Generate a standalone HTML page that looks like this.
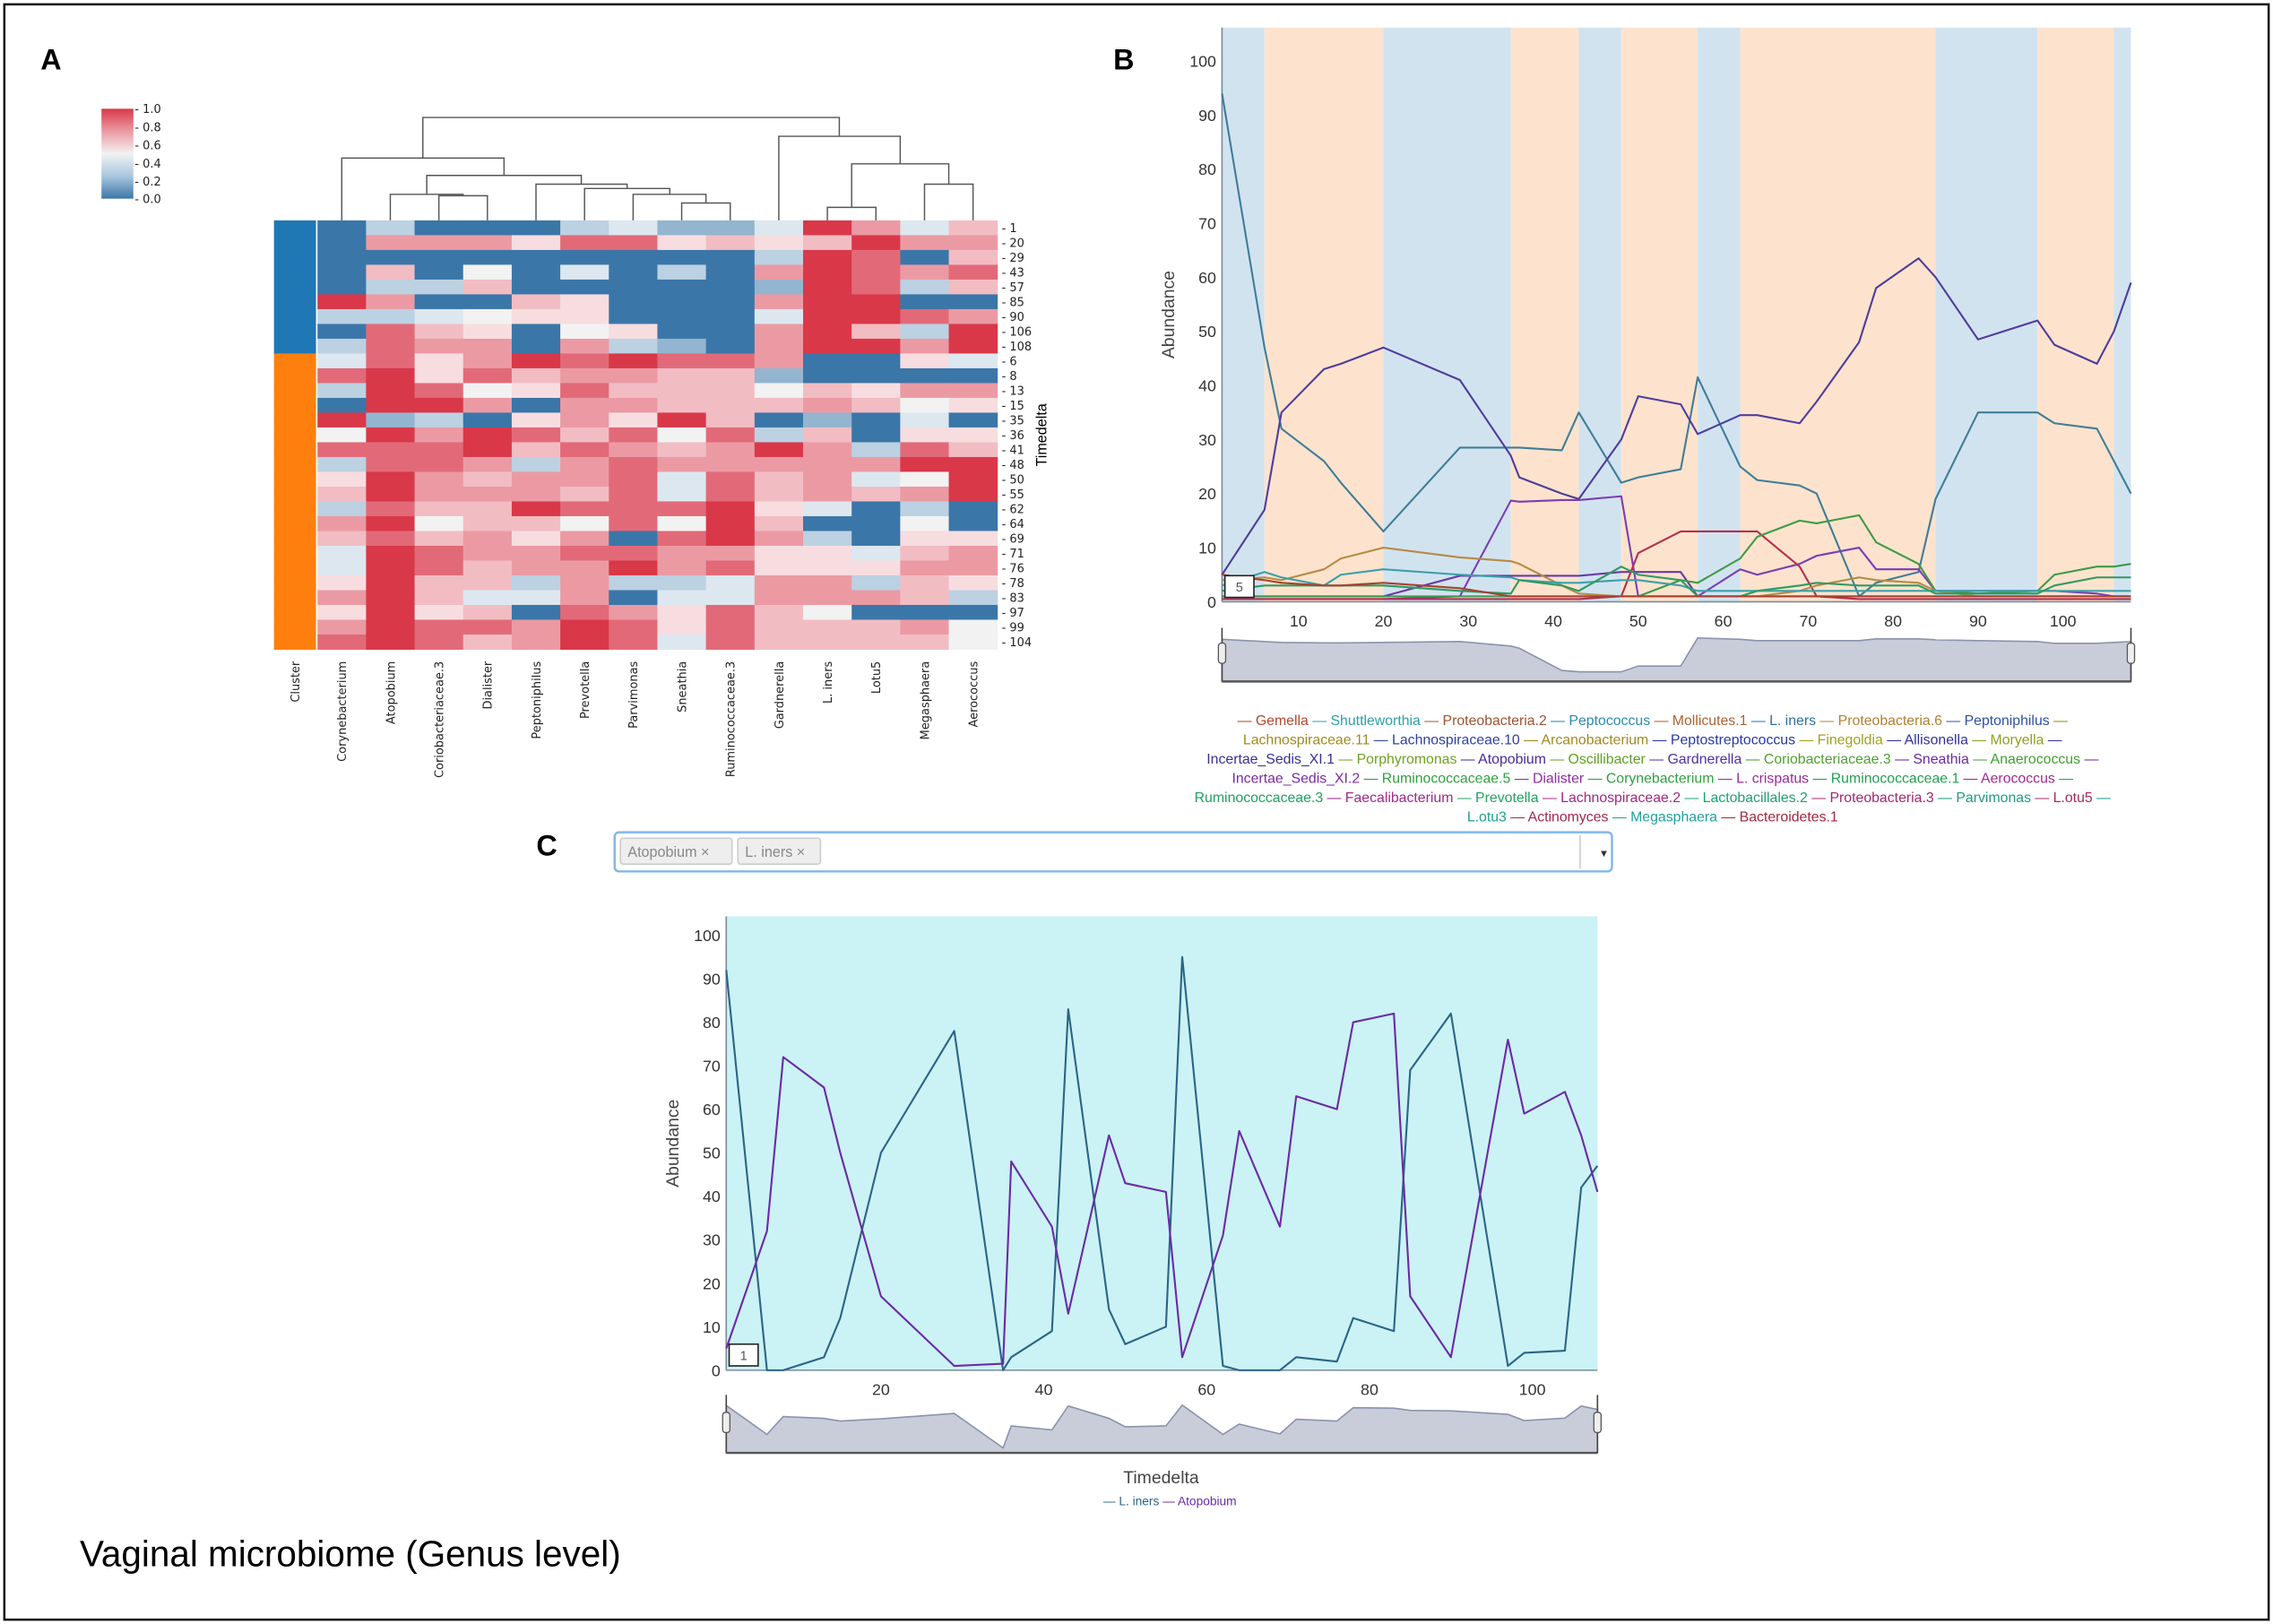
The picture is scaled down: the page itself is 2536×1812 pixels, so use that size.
<!DOCTYPE html>
<html><head><meta charset="utf-8">
<style>
html,body{margin:0;padding:0;background:#fff;}
svg{display:block;font-family:"Liberation Sans","DejaVu Sans",sans-serif;}
</style></head>
<body>
<svg id="fig" width="2536" height="1812" viewBox="0 0 1568 1120" preserveAspectRatio="none" xmlns="http://www.w3.org/2000/svg">
<rect x="3" y="3" width="1562" height="1114" fill="#fff" stroke="#000" stroke-width="1.5"/>
<text x="28" y="48" font-size="20" font-weight="bold">A</text>
<text x="768" y="48" font-size="20" font-weight="bold">B</text>
<text x="370" y="590" font-size="20" font-weight="bold">C</text>
<text x="55" y="1080" font-size="25">Vaginal microbiome (Genus level)</text>

<defs>
<linearGradient id="cbar" x1="0" y1="0" x2="0" y2="1">
<stop offset="0" stop-color="#d93849"/><stop offset="0.25" stop-color="#eb9aa3"/><stop offset="0.5" stop-color="#f2f2f2"/><stop offset="0.75" stop-color="#a9c6dd"/><stop offset="1" stop-color="#3b76a8"/>
</linearGradient>
</defs>
<g>
<rect x="70" y="75" width="22" height="62" fill="url(#cbar)"/>
<g font-size="8" font-family="DejaVu Sans, sans-serif" fill="#222">
<text x="93" y="78">- 1.0</text><text x="93" y="90.5">- 0.8</text><text x="93" y="103">- 0.6</text><text x="93" y="115.5">- 0.4</text><text x="93" y="128">- 0.2</text><text x="93" y="140">- 0.0</text>
</g>
</g>
<g id="heat"></g>
<g id="dendro" fill="none" stroke="#555" stroke-width="0.9"></g>
<text transform="translate(722,300) rotate(-90)" font-size="10" text-anchor="middle">Timedelta</text>

<g id="chartB"></g>
<g id="legendB" font-size="9.8" text-anchor="middle"></g>

<g>
<rect x="424" y="574" width="688" height="27" rx="3" fill="#fff" stroke="#7fb8ec" stroke-width="1.5"/>
<line x1="1090" y1="576" x2="1090" y2="599" stroke="#ccc"/>
<text x="1103" y="591" font-size="7" fill="#333">▼</text>
<g><rect x="428" y="578" width="77" height="18" rx="2" fill="#eee" stroke="#ccc"/><text x="433" y="591" font-size="10" fill="#888">Atopobium  ×</text></g>
<g><rect x="509" y="578" width="57" height="18" rx="2" fill="#eee" stroke="#ccc"/><text x="514" y="591" font-size="10" fill="#888">L. iners  ×</text></g>
</g>
<g id="chartC"></g>

<script>
// ---------- Heatmap data ----------
const heatCols = ["Corynebacterium","Atopobium","Coriobacteriaceae.3","Dialister","Peptoniphilus","Prevotella","Parvimonas","Sneathia","Ruminococcaceae.3","Gardnerella","L. iners","Lotu5","Megasphaera","Aerococcus"];
const heatRows = ["1","20","29","43","57","85","90","106","108","6","8","13","15","35","36","41","48","50","55","62","64","69","71","76","78","83","97","99","104"];
const heatCluster = [0,0,0,0,0,0,0,0,0,1,1,1,1,1,1,1,1,1,1,1,1,1,1,1,1,1,1,1,1];
const heatVals = [
"02000231139736","07775885656977","00000000029806","06040302079878","02260000019826",
"97006500079900","22345500039987","08650450079629","28770721079979","38579898870053",
"89586776610000","29845866646577","09970776667645","91205759601030","49798684826055",
"88896876797286","28872787777799","59767783867349","69777683867679","28669888953020",
"79466484960040","68675708972055","39877887755367","39867797855577","59662722377265",
"79633703377762","59560875864000","79887985866674","89867983866664"];
const heatPalette = ["#3b76a8","#93b5cf","#bcd1e2","#dde7ef","#f2f2f2","#f7dde0","#f2bcc3","#eb9aa3","#e26a78","#d93849"];

// ---------- Panel B / C data ----------
const timepoints = [1,6,8,13,15,20,29,35,36,41,43,48,50,55,57,62,64,69,71,76,78,83,85,90,97,99,104,106,108];
const bGardnerella = [5,17,35,43,44,47,41,27,23,20,19,30,38,36.5,31,34.5,34.5,33,37,48,58,63.5,60,48.5,52,47.5,44,50,59];
const bLiners = [94,47,32,26,22,13,28.5,28.5,28.5,28,35,22,23,24.5,41.5,25,22.5,21.5,20,1,3.5,5.5,19,35,35,33,32,26,20];
const bViolet = [0.5,0.5,0.5,0.5,0.5,0.5,1,18.7,18.5,18.8,18.8,19.5,1,1,1,6,5,7,8.5,10,6,6,2,2,2,2,1.5,1,1];
const bPurple2 = [1,1,1,1,1,1,4.8,4.8,4.8,4.8,4.8,5.5,5.5,5.5,1,1,1,1,1,1,1,1,1,1,1,1,1,1,1];
const bRed = [0.5,0.5,0.5,0.5,0.5,0.5,0.5,0.5,0.5,0.5,0.5,1,9,13,13,13,13,6.5,1,0.5,0.5,0.5,0.5,0.5,0.5,0.5,0.5,0.5,0.5];
const bGreen = [1,1,1,1,1,1,1,1,1,1,1,1,1,4,3.5,8,12,15,14.5,16,11,7,2,1.5,2,5,6.5,6.5,7];
const bOlive = [4,4.5,4,6,8,10,8.2,7.5,7,3,1.5,1,1,1,1,1,1,2,3,4.5,4,3.5,2,1,1,1,1,1,1];
const bTeal2 = [3,5.5,4.5,3,5,6,5,4.5,4,3.5,3.5,4,4,3,2,2,2,2,2,2,2,2,2,2,2,2,2,2,2];
const bGreen2 = [2,3,3,3,3,3,2,1.5,4,3,2,6.5,5,4,1,1,2,3,3.5,3,3,3,1.5,1.5,1.5,3,4.5,4.5,4.5];
const bBrown = [5,4,3.5,3,3,3.5,2.5,1,1,1,1,1,1,1,1,1,1,1,1,1,1,1,1,1,1,1,1,1,1];
const bSliderLevel = [85,80,78,77,77,78,80,70,65,15,12,12,25,25,88,85,82,82,82,82,86,86,84,82,80,76,76,78,80];
const bBandStarts = [1,6,20,35,43,48,57,62,85,97,106];
const bBandEnds = [6,20,35,43,48,57,62,85,97,106,108];
const bBandType = [0,1,0,1,0,1,0,1,0,1,0];
const cLiners = [92,0,0,3,12,50,78,0,3,9,83,14,6,10,95,1,0,0,3,2,12,9,69,82,1,4,4.5,42,47];
const cAtopobium = [5,32,72,65,50,17,1,1.5,48,33,13,54,43,41,3,31,55,33,63,60,80,82,17,3,76,59,64,54,41];
const yTicks = [0,10,20,30,40,50,60,70,80,90,100];
const bXTicks = [10,20,30,40,50,60,70,80,90,100];
const cXTicks = [20,40,60,80,100];

const NS = "http://www.w3.org/2000/svg";
function mk(parent, tag, attrs, text){
  const e = document.createElementNS(NS, tag);
  for (const k in attrs) e.setAttribute(k, attrs[k]);
  if (text !== undefined) e.textContent = text;
  parent.appendChild(e);
  return e;
}

// ---------- Heatmap ----------
(function(){
  const g = document.getElementById("heat");
  const x0 = 219, cw = 33.5, y0 = 152, rh = 10.2;
  heatRows.forEach((r, i) => {
    const cb = mk(g, "rect", {x:189, y:y0+i*rh, width:29, height:rh+0.3, fill: heatCluster[i] ? "#ff7f0e" : "#1f77b4"});
    
    
    for (let j = 0; j < heatCols.length; j++) {
      const c = mk(g, "rect", {x:x0+j*cw, y:y0+i*rh, width:cw+0.3, height:rh+0.3, fill: heatPalette[+heatVals[i][j]]});
      
      
    }
    const t = mk(g, "text", {x:691, y:y0+i*rh+rh/2+3, "font-size":8, "font-family":"DejaVu Sans, sans-serif", fill:"#222"}, "- " + r);
    
    
  });
  const labs = ["Cluster"].concat(heatCols);
  labs.forEach((l, j) => {
    const cx = j === 0 ? 203.5 : x0 + (j-1)*cw + cw/2;
    const t = mk(g, "text", {transform:`translate(${cx+3},456) rotate(-90)`, "font-size":8, "text-anchor":"end", "font-family":"DejaVu Sans, sans-serif", fill:"#222"}, l);
    
    
  });
  const d = document.getElementById("dendro");
  const L = 152;
  const links = [[470.25,503.75,140,L,L],[436.75,487,134,L,140],[403.25,462,130,L,134],[369.75,432.6,127,L,130],
    [302.75,336.25,135,L,L],[269.25,319.5,134,L,135],[294.4,401,121,134,127],[235.75,347.7,109,L,121],
    [570.75,604.25,143,L,L],[637.75,671.25,127,L,L],[587.5,654.5,113,143,127],[537.25,621,94,L,113],[291.7,579,81,109,94]];
  links.forEach(k => {
    const p = mk(d, "path", {d:`M${k[0]},${k[3]}V${k[2]}H${k[1]}V${k[4]}`});
    
    
  });
})();

// ---------- Line chart helper ----------
function lineChart(gid, opt){
  const g = document.getElementById(gid);
  const xs = t => opt.x0 + (t - 1) * (opt.x1 - opt.x0) / 107;
  const ys = v => opt.y0 - v * (opt.y0 - opt.y100) / 100;
  if (opt.bands) {
    bBandStarts.forEach((s, i) => {
      const r = mk(g, "rect", {x:xs(s), y:opt.top, width:xs(bBandEnds[i])-xs(s), height:opt.y0-opt.top, fill: bBandType[i] ? "#fde3cd" : "#d2e3f0"});
      
      
    });
  } else {
    const r = mk(g, "rect", {x:opt.x0, y:opt.top, width:opt.x1-opt.x0, height:opt.y0-opt.top, fill:"#cbf2f5"});
    
    
  }
  const ax = mk(g, "line", {x1:opt.x0, y1:opt.top, x2:opt.x0, y2:opt.y0, stroke:"#7a8a99", "stroke-width":1});
  
  
  const bx = mk(g, "line", {x1:opt.x0, y1:opt.y0, x2:opt.x1, y2:opt.y0, stroke:"#7a8a99", "stroke-width":1});
  
  
  yTicks.forEach(v => {
    const t = mk(g, "text", {x:opt.x0-4, y:ys(v)+4, "font-size":11, "text-anchor":"end", fill:"#333"}, v);
    
    
  });
  opt.xticks.forEach(v => {
    const t = mk(g, "text", {x:xs(v), y:opt.y0+17, "font-size":11, "text-anchor":"middle", fill:"#333"}, v);
    
    
  });
  const yt = mk(g, "text", {transform:`translate(${opt.x0-33},${(opt.top+opt.y0)/2}) rotate(-90)`, "font-size":12, "text-anchor":"middle", fill:"#444"}, "Abundance");
  
  
  opt.series.forEach(s => {
    const p = mk(g, "polyline", {points: timepoints.map((t,i) => xs(t)+","+ys(s.v[i])).join(" "), fill:"none", stroke:s.c, "stroke-width":1.3, "stroke-linejoin":"round"});
    
    
  });
  const bxk = mk(g, "rect", {x:opt.x0+2, y:opt.y0-18, width:20, height:15, fill:"#fff", stroke:"#222", "stroke-width":1});
  
  
  const bxt = mk(g, "text", {x:opt.x0+12, y:opt.y0-7, "font-size":9, "text-anchor":"middle", fill:"#555"}, opt.boxLabel);
  
  
  const sy0 = opt.sTop, sy1 = opt.sBot;
  const lv = opt.slider;
  const mx = Math.max.apply(null, lv);
  const sv = v => sy1 - 3 - (v / mx) * (sy1 - sy0 - 10);
  let dpath = `M${xs(1)},${sy1}` + timepoints.map((t,i)=>`L${xs(t)},${sv(lv[i])}`).join("") + `L${xs(108)},${sy1}Z`;
  const bg = mk(g, "rect", {x:opt.x0, y:sy0, width:opt.x1-opt.x0, height:sy1-sy0, fill:"#fff", stroke:"none"});
  
  
  const ar = mk(g, "path", {d:dpath, fill:"#c9cdd9", stroke:"#8a93ad", "stroke-width":1});
  
  
  const bl = mk(g, "line", {x1:opt.x0, y1:sy1, x2:opt.x1, y2:sy1, stroke:"#555", "stroke-width":1.5});
  
  
  [opt.x0, opt.x1].forEach(hx => {
    const ln = mk(g, "line", {x1:hx, y1:sy0, x2:hx, y2:sy1, stroke:"#444", "stroke-width":1});
    
    
    const h = mk(g, "rect", {x:hx-2.5, y:(sy0+sy1)/2-8, width:5, height:14, rx:2, fill:"#eee", stroke:"#555", "stroke-width":0.8});
    
    
  });
}

lineChart("chartB", {x0:843, x1:1470, y0:415, y100:42, top:19, bands:true, xticks:bXTicks, boxLabel:"5", sTop:433, sBot:470, slider:bSliderLevel,
  series:[
    {n:"l-iners", c:"#3f7d98", v:bLiners},
    {n:"gardnerella", c:"#4e3d9c", v:bGardnerella},
    {n:"dialister", c:"#7c3db4", v:bViolet},
    {n:"sneathia", c:"#6a3aa6", v:bPurple2},
    {n:"proteobacteria-3", c:"#b3304c", v:bRed},
    {n:"ruminococcaceae-1", c:"#3e9a48", v:bGreen},
    {n:"lachnospiraceae-11", c:"#b58b45", v:bOlive},
    {n:"shuttleworthia", c:"#3aa0a8", v:bTeal2},
    {n:"prevotella", c:"#2f9a60", v:bGreen2},
    {n:"gemella", c:"#a84030", v:bBrown}
  ]});

lineChart("chartC", {x0:501, x1:1102, y0:945, y100:645, top:632, bands:false, xticks:cXTicks, boxLabel:"1", sTop:962, sBot:1002,
  slider: timepoints.map((t,i) => cLiners[i] + cAtopobium[i]),
  series:[
    {n:"l-iners", c:"#2b6487", v:cLiners},
    {n:"atopobium", c:"#6a2aa6", v:cAtopobium}
  ]});
(function(){
  const g = document.getElementById("chartC");
  const t = mk(g, "text", {x:801, y:1023, "font-size":12, "text-anchor":"middle", fill:"#444"}, "Timedelta");
  
  
  const lg = mk(g, "text", {x:807, y:1038, "font-size":8.5, "text-anchor":"middle"});
  
  
  [["— L. iners ","#2b6487"],["— Atopobium","#6a2aa6"]].forEach(p => { mk(lg, "tspan", {fill:p[1]}, p[0]); });
})();

// ---------- Legend B ----------
const legendLines = [
 [["Gemella","#b5482f"],["Shuttleworthia","#2ca0a8"],["Proteobacteria.2","#a0522d"],["Peptococcus","#2a8ab0"],["Mollicutes.1","#b06030"],["L. iners","#2a6fa0"],["Proteobacteria.6","#b08030"],["Peptoniphilus","#3050a0"],["","#a08a20"]],
 [["Lachnospiraceae.11","#a08a20"],["Lachnospiraceae.10","#3040a0"],["Arcanobacterium","#a08a20"],["Peptostreptococcus","#2838a0"],["Finegoldia","#a0a020"],["Allisonella","#30309a"],["Moryella","#90a020"],["","#383090"]],
 [["Incertae_Sedis_XI.1","#383090"],["Porphyromonas","#70a020"],["Atopobium","#4a2a9a"],["Oscillibacter","#60a020"],["Gardnerella","#5030a0"],["Coriobacteriaceae.3","#50a030"],["Sneathia","#6a2aa0"],["Anaerococcus","#40a030"],["","#7a2aa0"]],
 [["Incertae_Sedis_XI.2","#7a2aa0"],["Ruminococcaceae.5","#30a040"],["Dialister","#902aa0"],["Corynebacterium","#30a040"],["L. crispatus","#9a2a9a"],["Ruminococcaceae.1","#20a050"],["Aerococcus","#a02a90"],["","#20a060"]],
 [["Ruminococcaceae.3","#20a060"],["Faecalibacterium","#a0288a"],["Prevotella","#20a060"],["Lachnospiraceae.2","#a02880"],["Lactobacillales.2","#20a070"],["Proteobacteria.3","#a02870"],["Parvimonas","#209a80"],["L.otu5","#a02860"],["","#20a090"]],
 [["L.otu3","#20a090"],["Actinomyces","#a02850"],["Megasphaera","#20a0a0"],["Bacteroidetes.1","#a02840"]]
];
(function(){
  const g = document.getElementById("legendB");
  legendLines.forEach((line, i) => {
    const t = mk(g, "text", {x:1140, y:500 + i*13.3});
    
    
    line.forEach((it, k) => {
      const pre = (i === 0 || k > 0) ? "— " : "";
      const s = mk(t, "tspan", {fill:it[1]}, (k ? " " : "") + pre + it[0]);
      
      
    });
  });
})();
</script>
</svg>
</body></html>
